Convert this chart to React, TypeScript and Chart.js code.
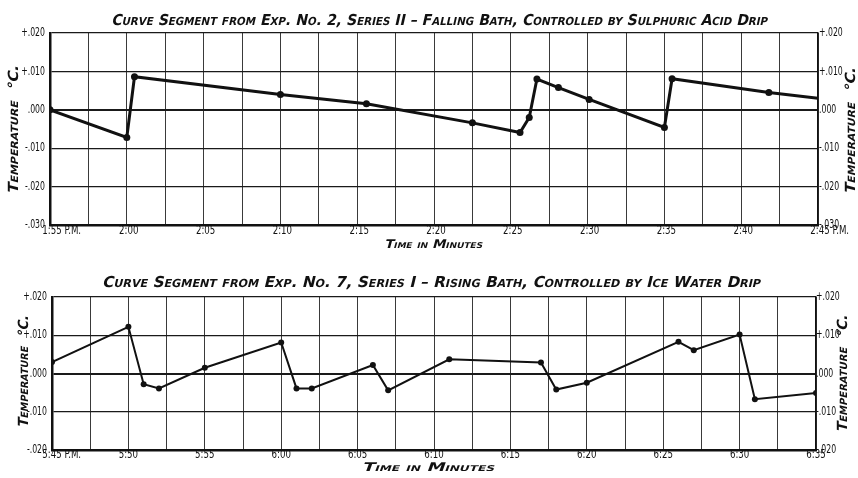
import { useEffect, useRef } from "react";
import { Chart, registerables } from "chart.js";

Chart.register(...registerables);

const TICK_FONT = "'Liberation Sans Narrow', 'DejaVu Sans Condensed', sans-serif";
const LETTER_FONT = "'DejaVu Sans', 'Liberation Sans', sans-serif";
const INK = "#111";

// ---------- Top chart: Exp. No. 2, Series II ----------
const topTitle =
  "Curve Segment from Exp. No. 2, Series II – Falling Bath, Controlled by Sulphuric Acid Drip";
// minutes after 1:55 P.M.
const topMinutes = [0, 5, 5.5, 15, 20.6, 27.5, 30.6, 31.2, 31.7, 33.1, 35.1, 40, 40.5, 46.8, 50];
// temperature deviation, °C
const topTemps = [
  0.0, -0.0072, 0.0086, 0.004, 0.0016, -0.0034, -0.0059, -0.002, 0.008, 0.0058, 0.0027, -0.0046,
  0.0081, 0.0045, 0.003,
];
const topXTickValues = [0, 5, 10, 15, 20, 25, 30, 35, 40, 45, 50];
const topXLabels = ["1:55 P.M.", "2:00", "2:05", "2:10", "2:15", "2:20", "2:25", "2:30", "2:35", "2:40", "2:45 P.M."];
const topYTickValues = [0.02, 0.01, 0, -0.01, -0.02, -0.03];
const topYLabels = ["+.020", "+.010", ".000", "-.010", "-.020", "-.030"];

// ---------- Bottom chart: Exp. No. 7, Series I ----------
const botTitle =
  "Curve Segment from Exp. No. 7, Series I – Rising Bath, Controlled by Ice Water Drip";
// minutes after 5:45 P.M.
const botMinutes = [0, 5, 6, 7, 10, 15, 16, 17, 21, 22, 26, 32, 33, 35, 41, 42, 45, 46, 50];
const botTemps = [
  0.003, 0.0122, -0.0028, -0.0039, 0.0015, 0.0081, -0.0039, -0.0039, 0.0022, -0.0044, 0.0037,
  0.0029, -0.0042, -0.0024, 0.0083, 0.0061, 0.0102, -0.0067, -0.0051,
];
const botXTickValues = [0, 5, 10, 15, 20, 25, 30, 35, 40, 45, 50];
const botXLabels = ["5:45 P.M.", "5:50", "5:55", "6:00", "6:05", "6:10", "6:15", "6:20", "6:25", "6:30", "6:35"];
const botYTickValues = [0.02, 0.01, 0, -0.01, -0.02];
const botYLabels = ["+.020", "+.010", ".000", "-.010", "-.020"];

// grid every 2.5 minutes
const gridMinutes = [0, 2.5, 5, 7.5, 10, 12.5, 15, 17.5, 20, 22.5, 25, 27.5, 30, 32.5, 35, 37.5, 40, 42.5, 45, 47.5, 50];

const yTitle = "Temperature  °C.";
const xTitle = "Time in Minutes";

type Spec = {
  title: string;
  minutes: number[];
  temps: number[];
  xTicks: number[];
  xLabels: string[];
  yTicks: number[];
  yLabels: string[];
  yMin: number;
  yMax: number;
  lineWidth: number;
  pointRadius: number;
  hideLastPoint: boolean;
  padTop: number;
  xHeight: number;
  leftW: number;
  rightW: number;
  titleCx: number;
  titleCy: number;
  titleW: number;
  titleSize: number;
  xTitleCx: number;
  xTitleCy: number;
  xTitleW: number;
  leftTitle: [number, number, number];
  rightTitle: [number, number, number];
  xLabelDx: number;
  xLabelDy: number;
  rightLabelPad: number;
};

function drawFitted(
  ctx: CanvasRenderingContext2D,
  text: string,
  cx: number,
  cy: number,
  size: number,
  width: number,
  rot: number
) {
  ctx.save();
  ctx.font = `small-caps bold ${size}px ${LETTER_FONT}`;
  try {
    (ctx as any).fontVariantCaps = "small-caps";
  } catch (e) {
    /* ignore */
  }
  ctx.translate(cx, cy);
  ctx.rotate(rot);
  const w = ctx.measureText(text).width || 1;
  ctx.scale(width / w, 1);
  ctx.transform(1, 0, -0.24, 1, 0, 0);
  ctx.textAlign = "center";
  ctx.textBaseline = "middle";
  ctx.fillStyle = INK;
  ctx.fillText(text, 0, 0);
  ctx.restore();
}

function drawCondensed(
  ctx: CanvasRenderingContext2D,
  text: string,
  x: number,
  y: number,
  align: "left" | "right",
  squeeze: number
) {
  ctx.save();
  ctx.translate(x, y);
  ctx.scale(squeeze, 1);
  ctx.textAlign = align;
  ctx.fillText(text, 0, 0);
  ctx.restore();
}

function buildConfig(s: Spec): any {
  const decor = {
    id: "decor",
    afterDraw(chart: any) {
      const ctx: CanvasRenderingContext2D = chart.ctx;
      const xs = chart.scales.x;
      const ys = chart.scales.y;
      const area = chart.chartArea;
      // title
      drawFitted(ctx, s.title, s.titleCx, s.titleCy, s.titleSize, s.titleW, 0);
      // x title
      drawFitted(ctx, xTitle, s.xTitleCx, s.xTitleCy, 12, s.xTitleW, 0);
      // y titles (both read bottom to top)
      drawFitted(ctx, yTitle, s.leftTitle[0], s.leftTitle[1], 14, s.leftTitle[2], -Math.PI / 2);
      drawFitted(ctx, yTitle, s.rightTitle[0], s.rightTitle[1], 14, s.rightTitle[2], -Math.PI / 2);

      ctx.save();
      ctx.font = `12px ${TICK_FONT}`;
      ctx.fillStyle = INK;
      ctx.textBaseline = "middle";
      // x tick labels: time number centred on gridline, suffix hanging right
      s.xTicks.forEach((v, i) => {
        const label = s.xLabels[i];
        const num = label.split(" ")[0];
        const sq = 0.8;
        const nw = ctx.measureText(num).width * sq;
        const px = xs.getPixelForValue(v) + s.xLabelDx;
        drawCondensed(ctx, label, px - nw / 2, area.bottom + s.xLabelDy, "left", sq);
      });
      // y tick labels on both sides
      s.yTicks.forEach((v, i) => {
        const py = ys.getPixelForValue(v);
        drawCondensed(ctx, s.yLabels[i], area.left - 5, py, "right", 0.72);
        drawCondensed(ctx, s.yLabels[i], area.right + s.rightLabelPad, py, "left", 0.72);
      });
      ctx.restore();
    },
  };

  const yTickBuilder = (sc: any) => {
    sc.ticks = s.yTicks.slice().reverse().map((v) => ({ value: v }));
  };

  return {
    type: "line",
    data: {
      datasets: [
        {
          data: s.minutes.map((m, i) => ({ x: m, y: s.temps[i] })),
          borderColor: INK,
          backgroundColor: INK,
          borderWidth: s.lineWidth,
          pointRadius: (c: any) =>
            s.hideLastPoint && c.dataIndex === s.minutes.length - 1 ? 0 : s.pointRadius,
          pointBackgroundColor: INK,
          pointBorderWidth: 0,
          tension: 0,
          fill: false,
        },
      ],
    },
    options: {
      responsive: false,
      animation: false,
      devicePixelRatio: 1,
      layout: { padding: { top: s.padTop, left: 0, right: 0, bottom: 0 } },
      plugins: {
        legend: { display: false },
        title: { display: false },
        tooltip: { enabled: false },
      },
      scales: {
        x: {
          type: "linear",
          min: 0,
          max: 50,
          afterBuildTicks: (sc: any) => {
            sc.ticks = gridMinutes.map((v) => ({ value: v }));
          },
          afterFit: (sc: any) => {
            sc.height = s.xHeight;
          },
          ticks: { display: false },
          grid: { color: "#3a3a3a", lineWidth: 1, drawTicks: false },
          border: { display: true, color: INK, width: 2.5 },
        },
        y: {
          type: "linear",
          position: "left",
          min: s.yMin,
          max: s.yMax,
          afterBuildTicks: yTickBuilder,
          afterFit: (sc: any) => {
            sc.width = s.leftW;
          },
          ticks: { display: false },
          grid: {
            color: "#1a1a1a",
            lineWidth: (c: any) => (c.tick && Math.abs(c.tick.value) < 1e-9 ? 2 : 1.3),
            drawTicks: false,
          },
          border: { display: true, color: INK, width: 2.5 },
        },
        y2: {
          type: "linear",
          position: "right",
          min: s.yMin,
          max: s.yMax,
          afterBuildTicks: yTickBuilder,
          afterFit: (sc: any) => {
            sc.width = s.rightW;
          },
          ticks: { display: false },
          grid: { display: false, drawTicks: false },
          border: { display: true, color: INK, width: 1.5 },
        },
      },
    },
    plugins: [decor],
  };
}

const topSpec: Spec = {
  title: topTitle,
  minutes: topMinutes,
  temps: topTemps,
  xTicks: topXTickValues,
  xLabels: topXLabels,
  yTicks: topYTickValues,
  yLabels: topYLabels,
  yMin: -0.03,
  yMax: 0.02,
  lineWidth: 3,
  pointRadius: 3.5,
  hideLastPoint: true,
  padTop: 33,
  xHeight: 25,
  leftW: 50,
  rightW: 40,
  titleCx: 440,
  titleCy: 21,
  titleW: 656,
  titleSize: 15,
  xTitleCx: 434,
  xTitleCy: 245,
  xTitleW: 98,
  leftTitle: [14, 129, 128],
  rightTitle: [851, 130, 126],
  xLabelDx: 2,
  xLabelDy: 6,
  rightLabelPad: 1,
};

const botSpec: Spec = {
  title: botTitle,
  minutes: botMinutes,
  temps: botTemps,
  xTicks: botXTickValues,
  xLabels: botXLabels,
  yTicks: botYTickValues,
  yLabels: botYLabels,
  yMin: -0.02,
  yMax: 0.02,
  lineWidth: 2,
  pointRadius: 3,
  hideLastPoint: false,
  padTop: 47,
  xHeight: 28,
  leftW: 52,
  rightW: 42,
  titleCx: 432,
  titleCy: 33,
  titleW: 658,
  titleSize: 15,
  xTitleCx: 429,
  xTitleCy: 218,
  xTitleW: 132,
  leftTitle: [24, 121, 112],
  rightTitle: [843, 123, 117],
  xLabelDx: 0,
  xLabelDy: 5,
  rightLabelPad: 0,
};

export default function App() {
  const topRef = useRef<HTMLCanvasElement>(null);
  const botRef = useRef<HTMLCanvasElement>(null);

  useEffect(() => {
    const charts: Chart[] = [];
    if (topRef.current) charts.push(new Chart(topRef.current, buildConfig(topSpec)));
    if (botRef.current) charts.push(new Chart(botRef.current, buildConfig(botSpec)));
    return () => charts.forEach((c) => c.destroy());
  }, []);

  return (
    <div
      style={{
        position: "absolute",
        left: 0,
        top: 0,
        width: 858,
        height: 478,
        background: "#fff",
        overflow: "hidden",
      }}
    >
      <canvas
        ref={topRef}
        width={858}
        height={250}
        style={{ position: "absolute", left: 0, top: 0, width: 858, height: 250 }}
      />
      <canvas
        ref={botRef}
        width={858}
        height={228}
        style={{ position: "absolute", left: 0, top: 250, width: 858, height: 228 }}
      />
    </div>
  );
}
